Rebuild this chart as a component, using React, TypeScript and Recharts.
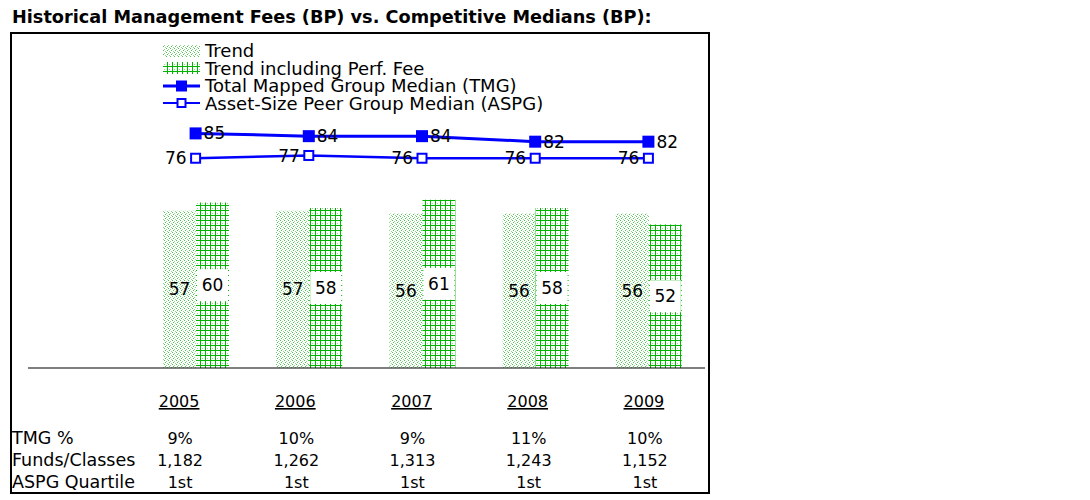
import { ComposedChart, Bar, Line, XAxis, YAxis, LabelList } from 'recharts';

const years = ['2005', '2006', '2007', '2008', '2009'];
const trend = [57, 57, 56, 56, 56];
const trendPerf = [60, 58, 61, 58, 52];
const tmgMedian = [85, 84, 84, 82, 82];
const aspgMedian = [76, 77, 76, 76, 76];
const tmgPct = ['9%', '10%', '9%', '11%', '10%'];
const fundsClasses = ['1,182', '1,262', '1,313', '1,243', '1,152'];
const aspgQuartile = ['1st', '1st', '1st', '1st', '1st'];
const rowLabels = ['TMG %', 'Funds/Classes', 'ASPG Quartile'];

const data = years.map((year, i) => ({
  year,
  trend: trend[i],
  trendPerf: trendPerf[i],
  tmg: tmgMedian[i],
  aspg: aspgMedian[i],
}));

const FONT = '"DejaVu Sans", Verdana, sans-serif';
const BLUE = '#0000ff';
const GREEN = '#00b400';

function Patterns() {
  return (
    <defs>
      <pattern id="trendFill" width="4" height="4" patternUnits="userSpaceOnUse">
        <rect width="4" height="4" fill="#fff" />
        <rect x="0" y="0" width="1" height="1" fill="#55c055" />
        <rect x="2" y="1" width="1" height="1" fill="#8fd88f" />
        <rect x="1" y="2" width="1" height="1" fill="#55c055" />
        <rect x="3" y="3" width="1" height="1" fill="#8fd88f" />
      </pattern>
      <pattern id="perfFill" width="5" height="5" patternUnits="userSpaceOnUse">
        <rect width="5" height="5" fill="#fff" />
        <rect x="2" y="3" width="1" height="1" fill="#9ad89a" />
        <rect x="0" y="0" width="1" height="5" fill={GREEN} />
        <rect x="0" y="0" width="5" height="1" fill={GREEN} />
      </pattern>
    </defs>
  );
}

function FilledSquare(props: any) {
  const { cx, cy } = props;
  if (cx == null || cy == null) return null;
  return <rect x={cx - 6} y={cy - 6} width={12} height={12} fill={BLUE} />;
}

function OpenSquare(props: any) {
  const { cx, cy } = props;
  if (cx == null || cy == null) return null;
  return <rect x={cx - 4.5} y={cy - 4.5} width={9} height={9} fill="#fff" stroke={BLUE} strokeWidth={2} />;
}

function BoxedLabel(props: any) {
  const { x, y, width, height, value } = props;
  const cy = y + height / 2;
  return (
    <g>
      <rect x={x + 1} y={cy - 16} width={width - 2} height={32} fill="#fff" />
      <text x={x + width / 2} y={cy} textAnchor="middle" dominantBaseline="central" fontSize={17} fontFamily={FONT} fill="#000">
        {value}
      </text>
    </g>
  );
}

function TableTick(props: any) {
  const { x, y, index, payload } = props;
  const rows = [tmgPct[index], fundsClasses[index], aspgQuartile[index]];
  return (
    <g fontFamily={FONT} fontSize={16} fill="#000">
      <text x={x - 1} y={y + 38} textAnchor="middle" textDecoration="underline">
        {payload.value}
      </text>
      {rows.map((r, k) => (
        <text key={k} x={x} y={y + 75 + k * 22} textAnchor="middle">
          {r}
        </text>
      ))}
      {index === 0 &&
        rowLabels.map((r, k) => (
          <text key={'l' + k} x={12} y={y + 75 + k * 22} textAnchor="start" fontSize={17.5}>
            {r}
          </text>
        ))}
    </g>
  );
}

function LegendBlock() {
  const rowStyle: React.CSSProperties = { display: 'flex', alignItems: 'center', height: 17.5 };
  const swatch = (kind: string) => (
    <svg width={40} height={14} style={{ marginRight: 3, flex: 'none' }}>
      <Patterns />
      {kind === 'trend' && <rect x={1} y={1} width={37} height={12} fill="url(#trendFill)" />}
      {kind === 'perf' && <rect x={1} y={1} width={37} height={12} fill="url(#perfFill)" />}
      {kind === 'tmg' && (
        <g>
          <line x1={1} y1={7} x2={38} y2={7} stroke={BLUE} strokeWidth={3} />
          <rect x={14} y={1.5} width={11} height={11} fill={BLUE} />
        </g>
      )}
      {kind === 'aspg' && (
        <g>
          <line x1={1} y1={7} x2={38} y2={7} stroke={BLUE} strokeWidth={2} />
          <rect x={15.5} y={3} width={8} height={8} fill="#fff" stroke={BLUE} strokeWidth={2} />
        </g>
      )}
    </svg>
  );
  const items = [
    ['trend', 'Trend'],
    ['perf', 'Trend including Perf. Fee'],
    ['tmg', 'Total Mapped Group Median (TMG)'],
    ['aspg', 'Asset-Size Peer Group Median (ASPG)'],
  ];
  return (
    <div style={{ position: 'absolute', left: 162, top: 42, fontFamily: FONT, fontSize: 18, lineHeight: '17.5px' }}>
      {items.map(([k, t]) => (
        <div key={k} style={rowStyle}>
          {swatch(k)}
          <span style={{ whiteSpace: 'nowrap' }}>{t}</span>
        </div>
      ))}
    </div>
  );
}

export default function App() {
  return (
    <div style={{ position: 'absolute', left: 0, top: 0, width: 1090, height: 500, background: '#fff' }}>
      <div
        style={{
          position: 'absolute',
          left: 12,
          top: 7,
          fontFamily: FONT,
          fontWeight: 'bold',
          fontSize: 17.7,
          lineHeight: '21px',
          whiteSpace: 'nowrap',
        }}
      >
        Historical Management Fees (BP) vs. Competitive Medians (BP):
      </div>
      <div
        style={{
          position: 'absolute',
          left: 10,
          top: 32,
          width: 700,
          height: 462,
          boxSizing: 'border-box',
          border: '2px solid #000',
        }}
      />
      <div style={{ position: 'absolute', left: 0, top: 0 }}>
        <ComposedChart
          width={720}
          height={500}
          data={data}
          margin={{ top: 92, right: 15, left: 28, bottom: 0 }}
          barSize={33}
          barGap={0}
        >
          <Patterns />
          <XAxis
            dataKey="year"
            height={1}
            tick={false}
            tickLine={false}
            padding={{ left: 111, right: 0 }}
            axisLine={{ stroke: '#000', strokeWidth: 1.2 }}
          />
          <XAxis
            xAxisId="table"
            dataKey="year"
            height={131}
            axisLine={false}
            tickLine={false}
            tickSize={0}
            tickMargin={0}
            interval={0}
            padding={{ left: 94, right: 2 }}
            tick={<TableTick />}
          />
          <YAxis hide domain={[0, 100]} />
          <Bar dataKey="trend" fill="url(#trendFill)" isAnimationActive={false}>
            <LabelList dataKey="trend" position="center" fontSize={17} fontFamily={FONT} fill="#000" />
          </Bar>
          <Bar dataKey="trendPerf" fill="url(#perfFill)" isAnimationActive={false}>
            <LabelList dataKey="trendPerf" content={<BoxedLabel />} />
          </Bar>
          <Line
            dataKey="tmg"
            stroke={BLUE}
            strokeWidth={3}
            dot={<FilledSquare />}
            activeDot={false}
            isAnimationActive={false}
          >
            <LabelList dataKey="tmg" position="right" offset={8} fontSize={17} fontFamily={FONT} fill="#000" />
          </Line>
          <Line
            dataKey="aspg"
            stroke={BLUE}
            strokeWidth={2.5}
            dot={<OpenSquare />}
            activeDot={false}
            isAnimationActive={false}
          >
            <LabelList dataKey="aspg" position="left" offset={9} fontSize={17} fontFamily={FONT} fill="#000" />
          </Line>
        </ComposedChart>
      </div>
      <LegendBlock />
    </div>
  );
}
